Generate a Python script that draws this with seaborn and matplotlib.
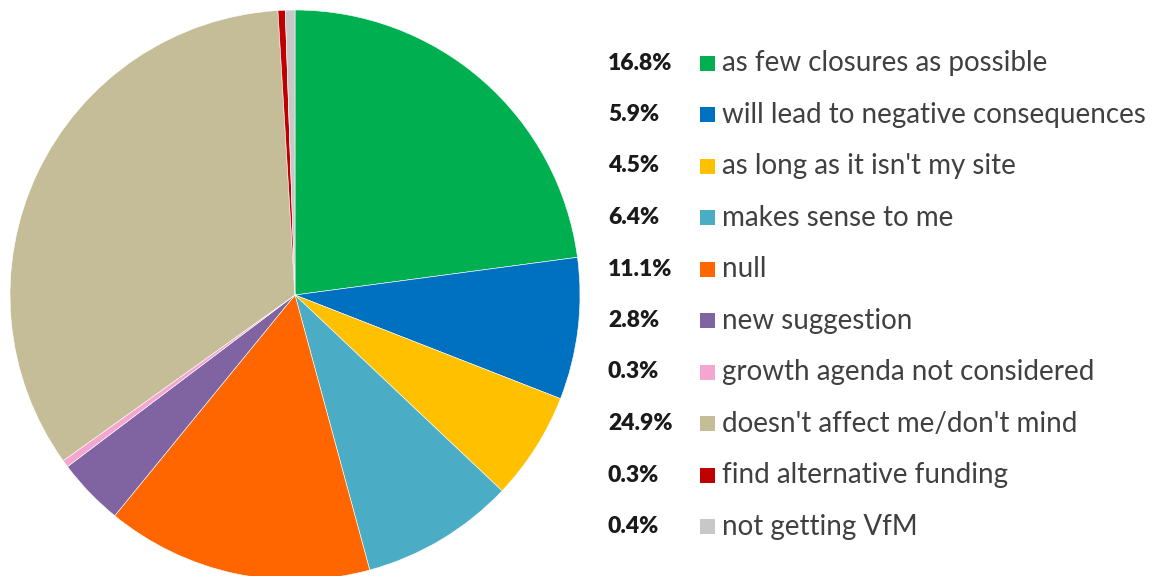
import matplotlib
matplotlib.use('Agg')
import matplotlib.pyplot as plt
import matplotlib.patches as mpatches
import seaborn as sns

# Data
labels = ['as few closures as possible', 'will lead to negative consequences',
          'as long as it isn\'t my site', 'makes sense to me', 'null',
          'new suggestion', 'growth agenda not considered',
          'doesn\'t affect me/don\'t mind', 'find alternative funding',
          'not getting VfM']
values = [16.8, 5.9, 4.5, 6.4, 11.1, 2.8, 0.3, 24.9, 0.3, 0.4]
colors = ['#00B050', '#0070C0', '#FFC000', '#4BACC6', '#FF6600',
          '#8064A2', '#F4A6D0', '#C4BD97', '#C00000', '#C8C8C8']

sns.set_style('white')
plt.rcParams['font.family'] = ['Lato', 'DejaVu Sans']
palette = sns.color_palette(colors)

W, H = 1160, 576
fig = plt.figure(figsize=(W / 100, H / 100), dpi=100, facecolor='w')

# Pie chart: center (295, 295) px, radius 285 px
cx, cy, r = 295, 295, 285
ax = fig.add_axes([(cx - r) / W, (H - cy - r) / H, 2 * r / W, 2 * r / H])
ax.pie(values, colors=palette, startangle=90, counterclock=False, radius=1,
       wedgeprops=dict(edgecolor='white', linewidth=0.4))
ax.set_xlim(-1, 1)
ax.set_ylim(-1, 1)
ax.set_aspect('equal')
ax.axis('off')

# Legend drawn by hand: percentage, colour square, label
y0, step = 63, 51.5
for i, (lab, val, col) in enumerate(zip(labels, values, palette)):
    y = y0 + i * step
    fig.text(608 / W, 1 - y / H, '{:.1f}%'.format(val), ha='left', va='center',
             fontsize=16.5, fontweight='heavy', color='#1a1a1a')
    sq = 15
    fig.patches.append(mpatches.Rectangle(((700) / W, 1 - (y + sq / 2) / H), sq / W, sq / H,
                                          transform=fig.transFigure, facecolor=col,
                                          edgecolor='none'))
    fig.text(722 / W, 1 - y / H, lab, ha='left', va='center',
             fontsize=20, color='#404040')

fig.savefig('out.png', dpi=100)
